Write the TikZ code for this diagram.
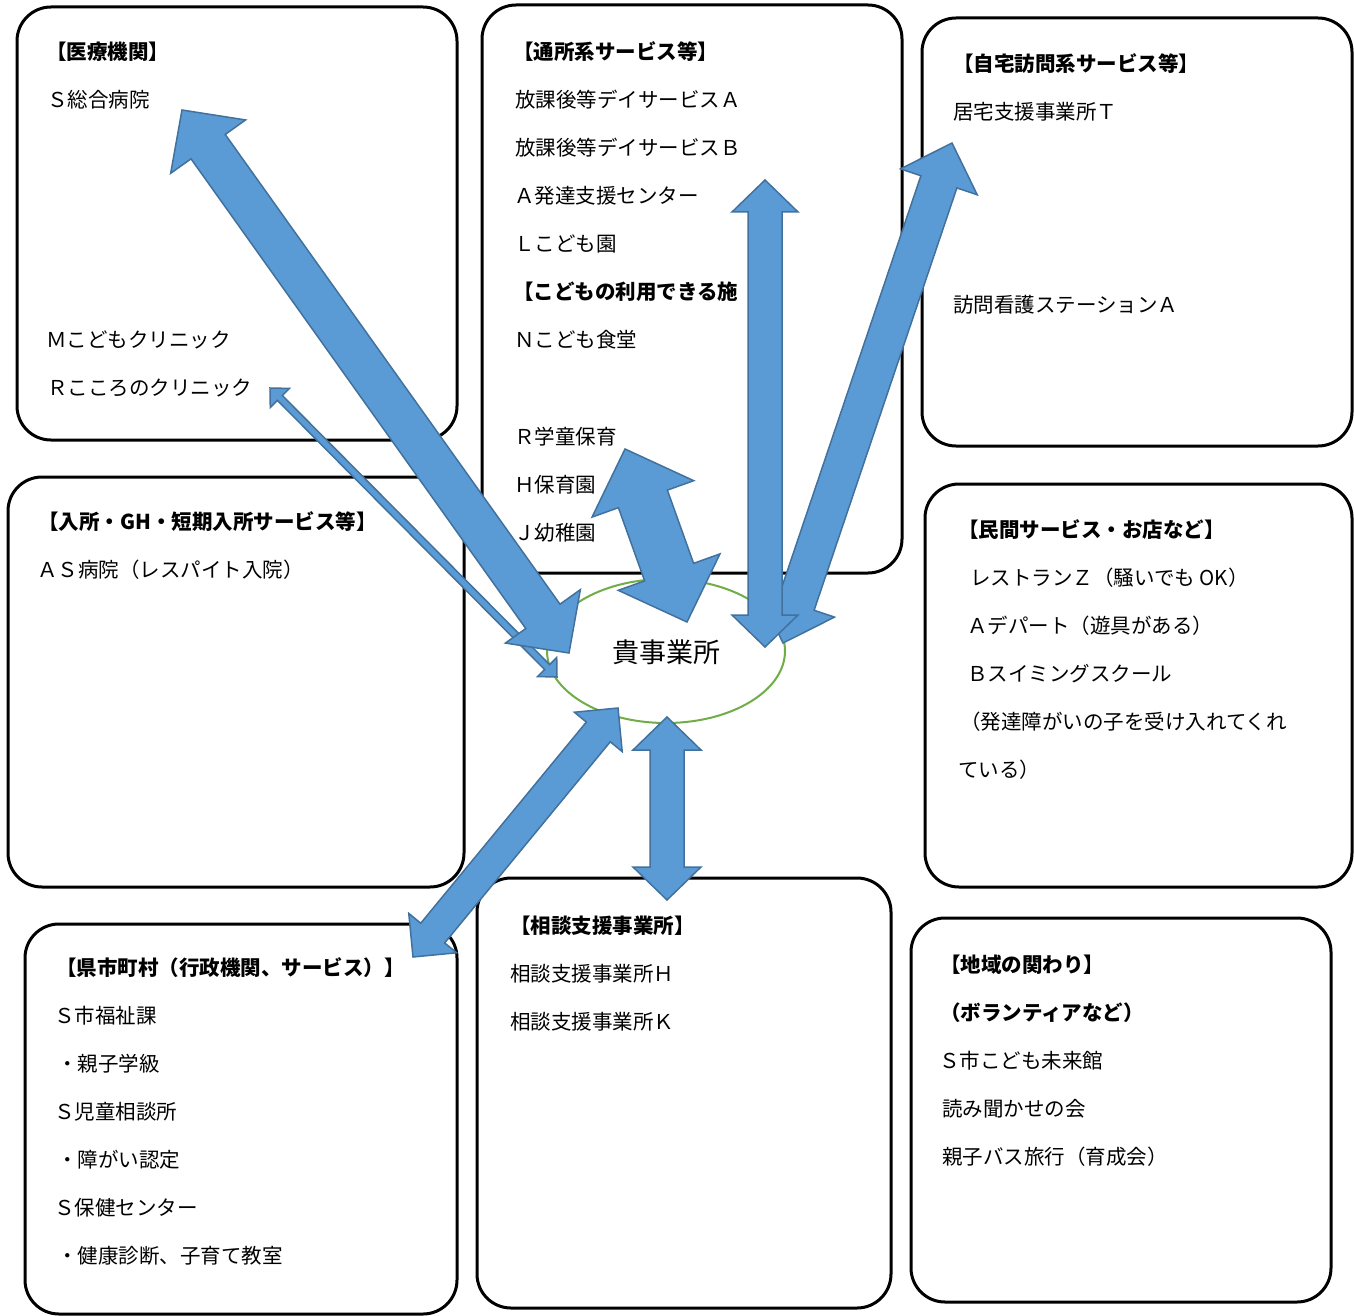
\documentclass[tikz,border=0pt]{standalone}
\usepackage{fontspec}
\setmainfont{Noto Sans CJK JP}
\usetikzlibrary{calc,shapes.geometric}
\definecolor{arrfill}{HTML}{5B9BD5}
\definecolor{arredge}{HTML}{41719C}
\definecolor{ellg}{HTML}{70AD47}
\newcommand\dblarr[5]{%
  \path ($(#1)!#5pt!(#2)$) coordinate (dA) ($(#2)!#5pt!(#1)$) coordinate (dB);
  \filldraw[arr] (#1) -- ($(dA)!#4pt!-90:(#2)$) -- ($(dA)!#3pt!-90:(#2)$)
    -- ($(dB)!#3pt!90:(#1)$) -- ($(dB)!#4pt!90:(#1)$) -- (#2)
    -- ($(dB)!#4pt!-90:(#1)$) -- ($(dB)!#3pt!-90:(#1)$)
    -- ($(dA)!#3pt!90:(#2)$) -- ($(dA)!#4pt!90:(#2)$) -- cycle;}
\begin{document}
\begin{tikzpicture}[x=1pt,y=-1pt,
  boxst/.style={draw=black,line width=3pt,rounded corners=34pt,inner sep=0pt,rectangle},
  txt/.style={anchor=west,inner sep=0pt,font=\fontsize{20.5}{24}\selectfont},
  hd/.style={anchor=west,inner sep=0pt,font=\fontsize{20.5}{24}\selectfont\bfseries},
  arr/.style={fill=arrfill,draw=arredge,line width=1.5pt,line join=miter}]
\useasboundingbox[fill=white] (0,0) rectangle (1354,1316);

% boxes
\node[boxst,minimum width=440pt,minimum height=433pt] (med) at (237,223.5) {};
\node[boxst,minimum width=420pt,minimum height=568pt] (tsu) at (692,289) {};
\node[boxst,minimum width=430pt,minimum height=428pt] (jit) at (1137,232) {};
\node[boxst,minimum width=456pt,minimum height=410pt] (nyu) at (236,682) {};
\node[boxst,minimum width=427pt,minimum height=403pt] (min) at (1138.5,685.5) {};
\node[boxst,minimum width=432pt,minimum height=390pt] (ken) at (241,1119) {};
\node[boxst,minimum width=414pt,minimum height=430pt] (sou) at (684,1093) {};
\node[boxst,minimum width=420pt,minimum height=384pt] (chi) at (1121,1110) {};

% texts: medical
\node[hd] (m0) at (46,52) {【医療機関】};
\node[txt] (m1) at (47,100) {Ｓ総合病院};
\node[txt] (m2) at (46,340) {Ｍこどもクリニック};
\node[txt] (m3) at (47,388) {Ｒこころのクリニック};
% day services
\node[hd] (s0) at (513,52) {【通所系サービス等】};
\node[txt] (s1) at (515,100) {放課後等デイサービスＡ};
\node[txt] (s2) at (515,148) {放課後等デイサービスＢ};
\node[txt] (s3) at (514,196) {Ａ発達支援センター};
\node[txt] (s4) at (514,244) {Ｌこども園};
\node[hd] (s5) at (513,292) {【こどもの利用できる施};
\node[txt] (s6) at (514,340) {Ｎこども食堂};
\node[txt] (s7) at (514,437) {Ｒ学童保育};
\node[txt] (s8) at (514,485) {Ｈ保育園};
\node[txt] (s9) at (514,533) {Ｊ幼稚園};
% home visit
\node[hd] (h0) at (953,64) {【自宅訪問系サービス等】};
\node[txt] (h1) at (953,112) {居宅支援事業所Ｔ};
\node[txt] (h2) at (953,305) {訪問看護ステーションＡ};
% residential
\node[hd] (r0) at (38,522) {【入所・GH・短期入所サービス等】};
\node[txt] (r1) at (37,570) {ＡＳ病院（レスパイト入院）};
% private
\node[hd] (p0) at (958,530) {【民間サービス・お店など】};
\node[txt] (p1) at (970,578) {レストランＺ（騒いでも OK）};
\node[txt] (p2) at (967,626) {Ａデパート（遊具がある）};
\node[txt] (p3) at (967,674) {Ｂスイミングスクール};
\node[txt] (p4) at (960,722) {（発達障がいの子を受け入れてくれ};
\node[txt] (p5) at (958,770) {ている）};
% prefecture
\node[hd] (k0) at (56,968) {【県市町村（行政機関、サービス）】};
\node[txt] (k1) at (54,1016) {Ｓ市福祉課};
\node[txt] (k2) at (57,1064) {・親子学級};
\node[txt] (k3) at (54,1112) {Ｓ児童相談所};
\node[txt] (k4) at (57,1160) {・障がい認定};
\node[txt] (k5) at (54,1208) {Ｓ保健センター};
\node[txt] (k6) at (57,1256) {・健康診断、子育て教室};
% consultation
\node[hd] (c0) at (510,926) {【相談支援事業所】};
\node[txt] (c1) at (510,974) {相談支援事業所Ｈ};
\node[txt] (c2) at (510,1022) {相談支援事業所Ｋ};
% community
\node[hd] (l0) at (940,965) {【地域の関わり】};
\node[hd] (l1) at (940,1013) {（ボランティアなど）};
\node[txt] (l2) at (939,1061) {Ｓ市こども未来館};
\node[txt] (l3) at (942,1109) {読み聞かせの会};
\node[txt] (l4) at (942,1157) {親子バス旅行（育成会）};

% centre
\node[ellipse,draw=ellg,line width=2pt,fill=white,minimum width=238pt,minimum height=144pt,inner sep=0pt] (ctr) at (666,651) {};
\node[inner sep=0pt,font=\fontsize{27}{30}\selectfont] (ctrt) at (666,652) {貴事業所};

% arrow end points
\coordinate (a1s) at (182,110); \coordinate (a1e) at (569,653);
\coordinate (a2s) at (270,388); \coordinate (a2e) at (557,677);
\coordinate (a3s) at (765,180); \coordinate (a3e) at (765,647);
\coordinate (a4s) at (952,143); \coordinate (a4e) at (783,643);
\coordinate (a5s) at (625,449); \coordinate (a5e) at (687,622);
\coordinate (a6s) at (618,708); \coordinate (a6e) at (413,957);
\coordinate (a7s) at (667,717); \coordinate (a7e) at (667,900);

\dblarr{a2s}{a2e}{3.5}{13.5}{14}
\dblarr{a1s}{a1e}{21}{46}{45}
\dblarr{a4s}{a4e}{19}{40.5}{41}
\dblarr{a3s}{a3e}{17}{33}{32}
\dblarr{a5s}{a5e}{26}{54}{53}
\dblarr{a6s}{a6e}{15.5}{31}{31}
\dblarr{a7s}{a7e}{17}{34}{33}
\end{tikzpicture}
\end{document}
